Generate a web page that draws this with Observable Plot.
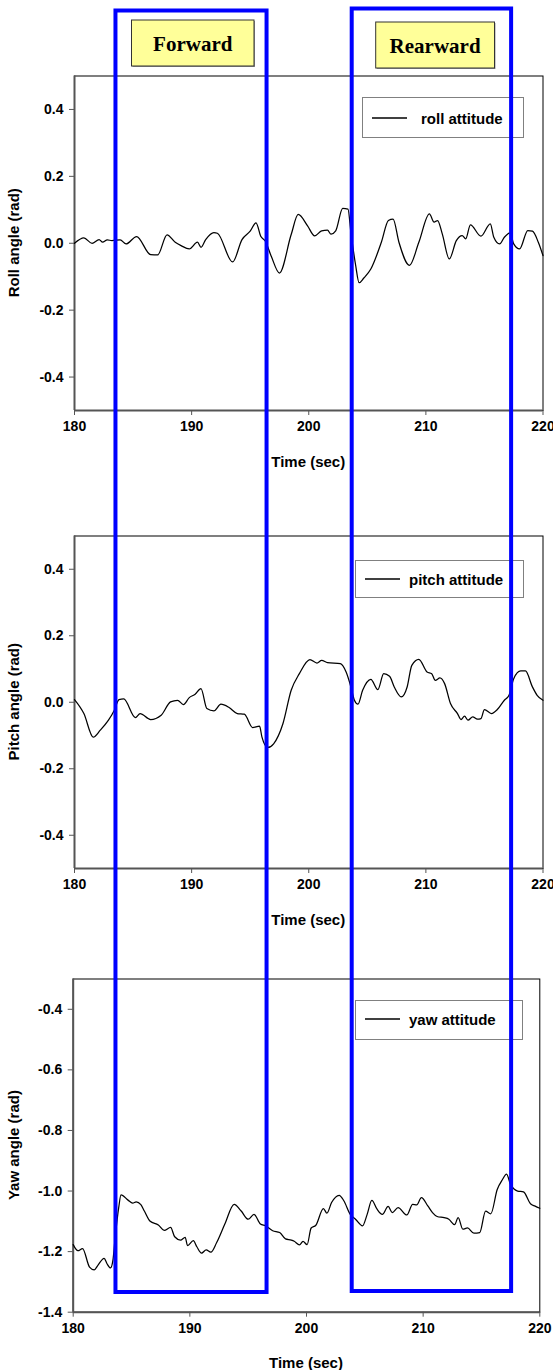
<!DOCTYPE html>
<html><head><meta charset="utf-8">
<script src="https://cdn.jsdelivr.net/npm/d3@7"></script>
<script src="https://cdn.jsdelivr.net/npm/@observablehq/plot@0.6"></script>
<style>
html,body{margin:0;padding:0;background:#fff;}
#chart{position:relative;width:553px;height:1370px;overflow:hidden;background:#fff;}
</style></head><body><div id="chart"></div>
<script>
// ---- data ----
const timeTicks = [180, 190, 200, 210, 220];
const angleTicks = [-0.4, -0.2, 0.0, 0.2, 0.4];
const yawTicks = [-1.4, -1.2, -1.0, -0.8, -0.6, -0.4];
const seriesNames = ["roll attitude", "pitch attitude", "yaw attitude"];
const axisTitles = ["Roll angle (rad)", "Pitch angle (rad)", "Yaw angle (rad)"];
const timeTitle = "Time (sec)";
const phaseNames = ["Forward", "Rearward"];
const phaseStart = [183.54, 203.71];
const phaseEnd = [196.44, 217.32];

const rollTime = [180,180.8,181.5,182.1,182.4,182.8,183.2,183.9,184.4,185.3,186.5,187.1,187.9,188.6,189.1,189.8,190.5,190.8,191.2,191.9,192.2,193.5,194.3,195.0,195.5,195.9,196.3,196.8,197.5,198.5,199.1,199.9,200.5,201.1,201.6,201.9,202.3,202.9,203.35,203.6,204.0,204.3,204.7,205.3,206.2,206.8,207.2,207.7,208.6,209.4,210.3,210.7,211.0,211.4,212.0,212.6,213.1,213.4,213.8,214.7,215.5,215.8,216.3,216.7,217.2,217.5,218.0,218.7,219.1,219.6,220.0];
const rollValue = [0.0,0.016,0.0,0.011,0.003,0.01,0.008,0.01,-0.002,0.02,-0.034,-0.035,0.025,0.003,-0.007,-0.017,0.003,-0.012,0.011,0.032,0.03,-0.056,0.011,0.036,0.061,0.021,0.006,-0.039,-0.089,0.026,0.086,0.052,0.022,0.037,0.039,0.027,0.037,0.104,0.102,0.032,-0.065,-0.118,-0.104,-0.077,0.003,0.068,0.072,0.003,-0.066,0.003,0.088,0.063,0.068,0.028,-0.047,0.008,0.023,0.013,0.055,0.021,0.058,0.018,-0.002,0.018,0.031,-0.002,-0.017,0.038,0.036,0.003,-0.037];

const pitchTime = [180,180.8,181.6,182.2,182.9,183.4,183.8,184.2,185.2,185.6,186.5,187.4,188.2,188.8,189.3,189.8,190.3,190.8,191.3,191.9,192.5,193.2,193.9,194.5,195.2,195.8,196.0,196.5,197.0,197.8,198.5,199.2,200.1,200.7,201.1,201.6,202.7,203.2,203.6,203.9,204.2,204.6,205.3,205.9,206.4,206.9,207.3,207.9,208.4,208.8,209.4,210.1,210.5,210.8,211.2,211.6,212.1,212.7,213.0,213.3,213.6,214.0,214.4,214.7,215.0,215.6,216.1,216.7,217.1,217.5,218.1,218.5,219.1,219.5,220.0];
const pitchValue = [0.008,-0.034,-0.105,-0.084,-0.054,-0.024,0.008,0.01,-0.046,-0.034,-0.052,-0.039,0.001,0.006,-0.007,0.014,0.024,0.041,-0.019,-0.026,-0.006,-0.016,-0.034,-0.036,-0.076,-0.072,-0.104,-0.136,-0.125,-0.064,0.036,0.086,0.128,0.118,0.126,0.119,0.116,0.09,0.046,0.006,-0.006,0.036,0.069,0.038,0.086,0.078,0.046,0.016,0.046,0.111,0.129,0.091,0.086,0.066,0.073,0.056,-0.004,-0.034,-0.052,-0.042,-0.054,-0.044,-0.051,-0.049,-0.022,-0.034,-0.022,0.006,0.021,0.071,0.094,0.094,0.046,0.021,0.006];

const yawTime = [180,180.4,180.8,181.4,181.8,182.1,182.65,182.9,183.2,183.4,183.6,183.9,184.1,184.7,185.1,185.4,185.8,186.1,186.6,187.3,187.8,188.35,188.7,189.2,189.6,189.8,190.3,190.6,191.0,191.4,191.8,192.3,193.0,193.8,194.4,195.0,195.5,196.05,196.5,197.1,197.7,198.2,198.7,198.95,199.4,199.7,200.05,200.4,200.8,201.45,201.75,202.15,202.8,203.2,203.75,204.2,204.8,205.2,205.6,206.05,206.5,207.0,207.35,207.85,208.6,209.1,209.45,209.85,210.4,210.8,211.2,211.8,212.2,212.7,213.0,213.4,213.8,214.35,214.85,215.35,215.8,216.35,216.8,217.15,217.5,218.1,218.6,219.2,219.6,220.0];
const yawValue = [-1.177,-1.197,-1.19,-1.251,-1.26,-1.246,-1.222,-1.24,-1.254,-1.23,-1.153,-1.055,-1.013,-1.03,-1.04,-1.036,-1.045,-1.066,-1.10,-1.112,-1.13,-1.12,-1.151,-1.162,-1.153,-1.18,-1.164,-1.184,-1.205,-1.194,-1.202,-1.17,-1.109,-1.044,-1.066,-1.093,-1.077,-1.109,-1.115,-1.131,-1.137,-1.158,-1.162,-1.166,-1.178,-1.166,-1.177,-1.122,-1.113,-1.058,-1.073,-1.038,-1.014,-1.032,-1.077,-1.093,-1.115,-1.077,-1.031,-1.06,-1.077,-1.051,-1.071,-1.055,-1.079,-1.044,-1.046,-1.022,-1.049,-1.071,-1.084,-1.088,-1.093,-1.111,-1.088,-1.126,-1.122,-1.139,-1.137,-1.066,-1.075,-0.995,-0.962,-0.944,-0.979,-1.0,-1.003,-1.042,-1.05,-1.057];

// ---- drawing ----
const FONT = '"Liberation Sans", Arial, sans-serif';
const container = document.getElementById("chart");

function panel(time, value, yDomain, yTicks, top, height, mt, mb, ml, mr) {
  const data = time.map((t, i) => ({t, v: value[i]}));
  const p = Plot.plot({
    width: 553, height,
    marginTop: mt, marginBottom: mb, marginLeft: ml, marginRight: mr,
    style: {fontFamily: FONT, fontWeight: "bold", fontSize: "14px", color: "#000", background: "transparent", overflow: "visible"},
    x: {domain: [180, 220]},
    y: {domain: yDomain},
    marks: [
      Plot.frame({stroke: "#000", strokeWidth: 1}),
      Plot.ruleX([180], {stroke: "#555", strokeWidth: 2}),
      Plot.ruleY([yDomain[0]], {stroke: "#555", strokeWidth: 2}),
      Plot.axisX({ticks: timeTicks, tickSize: 5, tickPadding: 6, stroke: "#555", fill: "#000", label: null, tickFormat: d => String(d), fontSize: 14, fontWeight: "bold"}),
      Plot.axisY({ticks: yTicks, tickSize: 5, tickPadding: 6, stroke: "#555", fill: "#000", label: null, tickFormat: d => d.toFixed(1), fontSize: 14, fontWeight: "bold"}),
      Plot.line(data, {x: "t", y: "v", stroke: "#000", strokeWidth: 1.25, curve: "monotone-x"})
    ]
  });
  p.style.position = "absolute";
  p.style.top = top + "px";
  p.style.left = "0px";
  container.appendChild(p);
  return p;
}

const p1 = panel(rollTime, rollValue, [-0.5, 0.5], angleTicks, 0, 470, 75.5, 60, 74, 10.5);
const p2 = panel(pitchTime, pitchValue, [-0.5, 0.5], angleTicks, 470, 460, 65.5, 62, 74, 10.5);
const p3 = panel(yawTime, yawValue, [-1.4, -0.3], yawTicks, 930, 440, 48.5, 58.3, 72.7, 13.7);

// overlay
const svg = d3.select(container).append("svg")
  .attr("width", 553).attr("height", 1370)
  .style("position", "absolute").style("left", "0px").style("top", "0px")
  .style("font-family", FONT);

const panels = [{p: p1, top: 0}, {p: p2, top: 470}, {p: p3, top: 930}];
panels.forEach(({p, top}, i) => {
  const xr = p.scale("x").range;
  const yr = p.scale("y").range;
  const xc = (xr[0] + xr[1]) / 2;
  const yb = top + Math.max(yr[0], yr[1]);
  const yc = top + (yr[0] + yr[1]) / 2;
  svg.append("text").attr("x", xc).attr("y", yb + 51)
    .attr("text-anchor", "middle").attr("dominant-baseline", "central")
    .attr("font-size", 15).attr("font-weight", "bold").text(timeTitle);
  svg.append("text").attr("transform", `translate(19,${yc}) rotate(-90)`)
    .attr("text-anchor", "middle")
    .attr("font-size", 15).attr("font-weight", "bold").text(axisTitles[i]);
});

// legends
const legends = [
  {x0: 362, y0: 97, w: 161, h: 40, lx: 372, ly: 118, tx: 421},
  {x0: 355, y0: 560, w: 168, h: 37, lx: 365, ly: 579, tx: 409},
  {x0: 355, y0: 1000, w: 167, h: 39, lx: 365, ly: 1019, tx: 409}
];
legends.forEach((L, i) => {
  svg.append("rect").attr("x", L.x0 + 0.5).attr("y", L.y0 + 0.5).attr("width", L.w).attr("height", L.h)
    .attr("fill", "#fff").attr("stroke", "#808080").attr("stroke-width", 1);
  svg.append("line").attr("x1", L.lx).attr("x2", L.lx + 35).attr("y1", L.ly).attr("y2", L.ly)
    .attr("stroke", "#000").attr("stroke-width", 1.3);
  svg.append("text").attr("x", L.tx).attr("y", L.ly).attr("dominant-baseline", "central")
    .attr("font-size", 15).attr("font-weight", "bold").text(seriesNames[i]);
});

// phase label boxes
const labelBoxes = [
  {x0: 131.5, y0: 20, w: 122.5, h: 46},
  {x0: 375.7, y0: 22, w: 118.8, h: 46}
];
labelBoxes.forEach((B, i) => {
  svg.append("rect").attr("x", B.x0 + 1).attr("y", B.y0 + 1).attr("width", B.w).attr("height", B.h)
    .attr("fill", "#999");
  svg.append("rect").attr("x", B.x0).attr("y", B.y0).attr("width", B.w).attr("height", B.h)
    .attr("fill", "#FFFF99").attr("stroke", "#333").attr("stroke-width", 1);
  svg.append("text").attr("x", B.x0 + B.w / 2).attr("y", B.y0 + B.h / 2 + 1)
    .attr("text-anchor", "middle").attr("dominant-baseline", "central")
    .attr("font-family", '"Liberation Serif", "Times New Roman", serif')
    .attr("font-size", 21).attr("font-weight", "bold").text(phaseNames[i]);
});

// blue phase rectangles
const xs = p1.scale("x");
const boxTop = [10.5, 8.5];
const boxBottom = [1292, 1291];
phaseNames.forEach((n, i) => {
  const x0 = xs.apply(phaseStart[i]);
  const x1 = xs.apply(phaseEnd[i]);
  svg.append("rect").attr("x", x0).attr("y", boxTop[i])
    .attr("width", x1 - x0).attr("height", boxBottom[i] - boxTop[i])
    .attr("fill", "none").attr("stroke", "#0000FF").attr("stroke-width", 4);
});
</script></body></html>
